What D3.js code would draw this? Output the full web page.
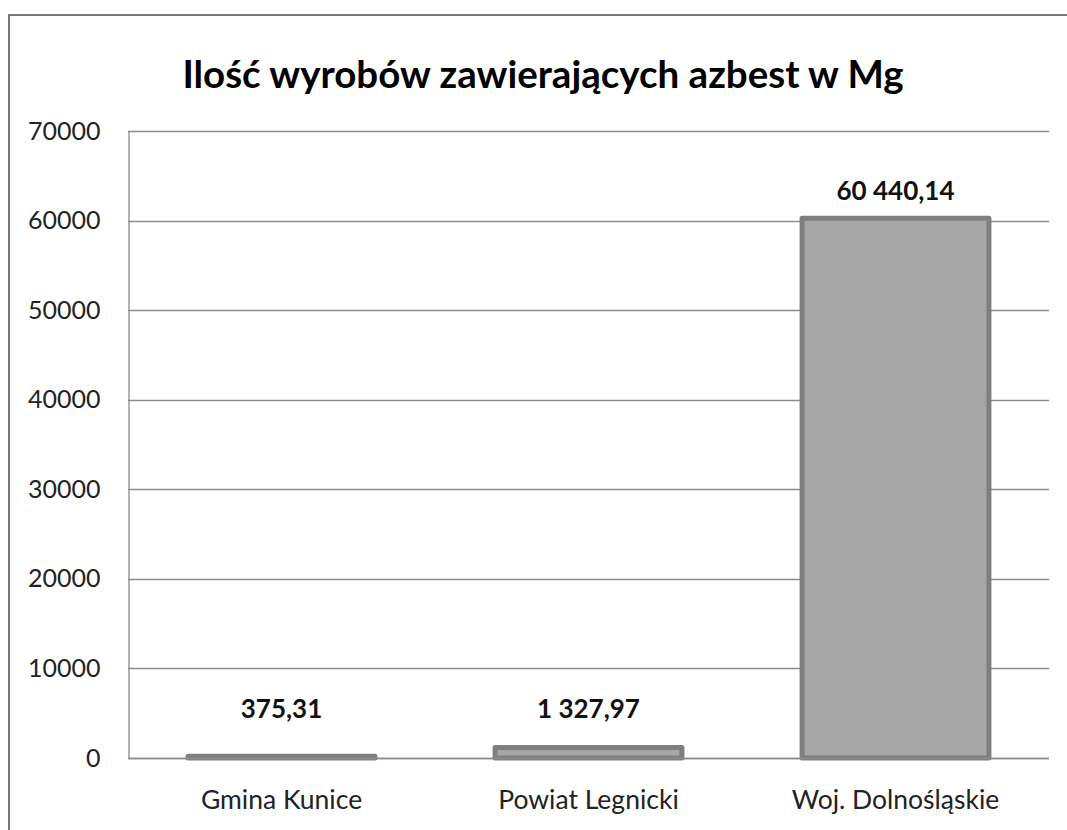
<!DOCTYPE html>
<html><head><meta charset="utf-8">
<script src="https://cdn.jsdelivr.net/npm/d3@7"></script>
<style>body{margin:0;background:#fff}svg{display:block}</style>
</head><body>
<svg id="c" width="1067" height="830"></svg>
<script>
const title = "Ilość wyrobów zawierających azbest w Mg";
const categories = ["Gmina Kunice", "Powiat Legnicki", "Woj. Dolnośląskie"];
const values = [375.31, 1327.97, 60440.14];
const valueLabels = ["375,31", "1 327,97", "60 440,14"];
const yTicks = [0, 10000, 20000, 30000, 40000, 50000, 60000, 70000];

const svg = d3.select("#c");
const font = "Lato, 'Open Sans', sans-serif";
const m = {left:128, right:1049, top:131, bottom:758};

svg.append("rect").attr("x",9).attr("y",15).attr("width",1080).attr("height",840)
  .attr("fill","#fff").attr("stroke","#7a7a7a").attr("stroke-width",2);

svg.append("text").attr("x",543).attr("y",88).attr("text-anchor","middle")
  .attr("font-family",font).attr("font-weight","bold").attr("font-size",38.5)
  .attr("fill","#000").text(title);

const x = d3.scaleBand().domain(categories).range([m.left,m.right]).paddingInner(0.375).paddingOuter(0.1875);
const y = d3.scaleLinear().domain([0,70000]).range([m.bottom,m.top]);

// gridlines
svg.append("g").selectAll("line").data(yTicks).join("line")
  .attr("x1",m.left).attr("x2",m.right)
  .attr("y1",d=>Math.round(y(d))+0.5).attr("y2",d=>Math.round(y(d))+0.5)
  .attr("stroke","#8c8c8c").attr("stroke-width",1.3);

// y axis
const ya = svg.append("g").attr("transform",`translate(${m.left+0.5},0)`)
  .call(d3.axisLeft(y).tickValues(yTicks).tickSize(0).tickPadding(28).tickFormat(d=>String(d)));
ya.select(".domain").attr("stroke","#8c8c8c").attr("stroke-width",1.3);
ya.selectAll("text").attr("font-family",font).attr("font-size",25).attr("fill","#222");

// x axis labels
const xa = svg.append("g").attr("transform",`translate(0,${m.bottom})`)
  .call(d3.axisBottom(x).tickSize(0).tickPadding(32));
xa.select(".domain").remove();
xa.selectAll("text").attr("font-family",font).attr("font-size",26.5).attr("fill","#222");

// bars
const sw = 5;
svg.append("g").selectAll("rect").data(values).join("rect")
  .attr("x",(d,i)=>x(categories[i])+sw/2)
  .attr("width",x.bandwidth()-sw)
  .attr("y",d=>y(d)+sw/2-1)
  .attr("height",d=>Math.max(0.5,y(0)-y(d)-sw/2+1))
  .attr("fill","#a6a6a6").attr("stroke","#7f7f7f").attr("stroke-width",sw)
  .attr("stroke-linejoin","round");

// redraw baseline over bars
svg.append("line").attr("x1",m.left).attr("x2",m.right)
  .attr("y1",Math.round(y(0))+0.5).attr("y2",Math.round(y(0))+0.5)
  .attr("stroke","#8c8c8c").attr("stroke-width",1.3);

// value labels
svg.append("g").selectAll("text").data(values).join("text")
  .attr("x",(d,i)=>x(categories[i])+x.bandwidth()/2)
  .attr("y",d=>Math.min(y(d)-17, y(0)-40))
  .attr("text-anchor","middle").attr("font-family",font).attr("font-weight","bold")
  .attr("font-size",26).attr("fill","#111")
  .text((d,i)=>valueLabels[i]);
</script>
</body></html>
